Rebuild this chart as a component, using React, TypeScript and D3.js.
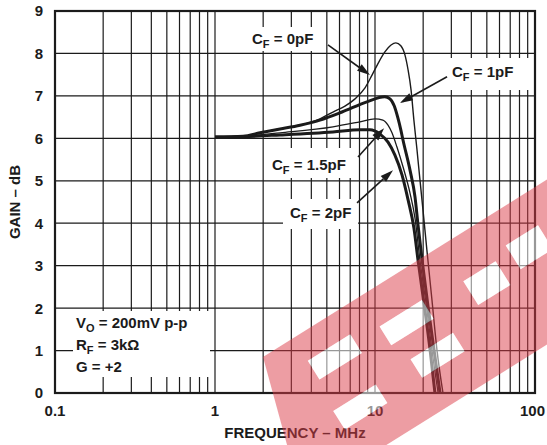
import React from "react";
import * as d3 from "d3";

const W = 547;
const H = 445;

// Curves (frequency in MHz, gain in dB)
const freq0pF = [1, 1.5, 1.91, 2.55, 3.4, 4.53, 5.46, 6.49, 7.5, 8.66, 9.58, 10.4, 11.5, 12.6, 13.5, 14.5, 15.4, 16.1, 16.8, 17.5, 18.3, 19.1, 19.95, 21.1, 22.7, 24.4, 26.6];
const gain0pF = [6.03, 6.05, 6.13, 6.22, 6.31, 6.46, 6.62, 6.76, 6.93, 7.19, 7.49, 7.75, 8.03, 8.2, 8.25, 8.18, 7.96, 7.61, 7.14, 6.43, 5.73, 5.02, 4.31, 3.37, 2.19, 1.01, 0];

const freq1pF = [1, 1.5, 1.91, 2.55, 3.4, 4.53, 6.22, 8.9, 11.5, 12.4, 13.2, 13.9, 14.5, 14.96, 16.55, 17.78, 18.57, 19.7, 21.4, 23.4, 25.5];
const gain1pF = [6.03, 6.05, 6.13, 6.22, 6.31, 6.43, 6.62, 6.86, 6.98, 6.93, 6.76, 6.48, 6.2, 5.96, 5.25, 4.62, 3.96, 3.13, 2.07, 1.01, 0];

const freq15pF = [1, 1.5, 2.55, 5.46, 8.06, 10, 11.2, 12.06, 12.77, 13.7, 14.96, 16.55, 17.78, 19.1, 21.1, 22.7, 24.8];
const gain15pF = [6.03, 6.05, 6.13, 6.27, 6.39, 6.46, 6.43, 6.31, 6.13, 5.8, 5.33, 4.71, 4.12, 3.13, 1.96, 1.01, 0];

const freq2pF = [1, 1.5, 2.55, 5.46, 8.06, 9.3, 10.75, 12.06, 13.3, 14.75, 16.1, 17.5, 18.57, 20.5, 22.1, 23.7];
const gain2pF = [6.03, 6.04, 6.08, 6.15, 6.2, 6.2, 6.1, 5.91, 5.61, 5.14, 4.55, 3.89, 3.13, 1.96, 1.01, 0];

const xTickValues = [0.1, 1, 10, 100];
const xTickLabels = ["0.1", "1", "10", "100"];
const yTickValues = [0, 1, 2, 3, 4, 5, 6, 7, 8, 9];

// label arrows: [fromF, fromG, toF, toG]
const arrow0pF = [5.08, 8.2, 9.3, 7.49];
const arrow1pF = [28.2, 7.45, 14.3, 6.83];
const arrow15pF = [7.83, 5.56, 11.4, 6.24];
const arrow2pF = [7.72, 4.48, 12.96, 5.25];

// watermark band (local rotated frame) and its white gaps [x, y, w, h]
const bandPoly = "0,0 620,0 620,140 -42,140";
const bandGaps = [
  [36, 27, 50, 22],
  [31, 83, 50, 22],
  [115, 36, 50, 22],
  [124, 80, 50, 22],
  [210, 42, 38, 28],
  [265, 34, 38, 28],
];

const FONT = "'Liberation Sans', Arial, Helvetica, sans-serif";
const INK = "#1b1b1b";
const PINK = "rgb(220,60,72)";

const x = d3.scaleLog().domain([0.1, 100]).range([55, 535]);
const y = d3.scaleLinear().domain([0, 9]).range([393, 11]);

function pathFor(fs: number[], gs: number[]) {
  const pts = fs.map((f, i) => [f, gs[i]] as [number, number]);
  return d3
    .line<[number, number]>()
    .x((d) => x(d[0]))
    .y((d) => y(d[1]))
    .curve(d3.curveMonotoneX)(pts) as string;
}

function Arrow({ a }: { a: number[] }) {
  const x1 = x(a[0]), y1 = y(a[1]), x2 = x(a[2]), y2 = y(a[3]);
  const ang = Math.atan2(y2 - y1, x2 - x1);
  const L = 13, hw = 4;
  const bx = x2 - L * Math.cos(ang), by = y2 - L * Math.sin(ang);
  const px = -Math.sin(ang) * hw, py = Math.cos(ang) * hw;
  return (
    <g>
      <line x1={x1} y1={y1} x2={bx} y2={by} stroke={INK} strokeWidth={1.6} />
      <polygon points={`${x2},${y2} ${bx + px},${by + py} ${bx - px},${by - py}`} fill={INK} />
    </g>
  );
}

function CLabel({ xx, yy, val }: { xx: number; yy: number; val: string }) {
  return (
    <text x={xx} y={yy} fontFamily={FONT} fontWeight="bold" fontSize={15} fill={INK}>
      C
      <tspan fontSize={11} dy={4}>F</tspan>
      <tspan dy={-4}>{` = ${val}`}</tspan>
    </text>
  );
}

export default function App() {
  const vLines: number[] = [];
  for (let e = -1; e < 2; e++) {
    for (let m = 1; m <= 9; m++) {
      const v = m * Math.pow(10, e);
      if (v > 0.1 + 1e-9) vLines.push(v);
    }
  }
  const hLines = [1, 2, 3, 4, 5, 6, 7, 8];

  return (
    <svg width={W} height={H} style={{ position: "absolute", left: 0, top: 0, background: "#fff" }}>
      <defs>
        <mask id="bandMask" maskUnits="userSpaceOnUse" x={-100} y={-50} width={800} height={250}>
          <rect x={-100} y={-50} width={800} height={250} fill="white" />
          {bandGaps.map((g, i) => (
            <rect key={i} x={g[0]} y={g[1]} width={g[2]} height={g[3]} fill="black" />
          ))}
        </mask>
      </defs>
      <rect x={0} y={0} width={W} height={H} fill="#fff" />
      {/* grid */}
      {vLines.map((v) => (
        <line key={"v" + v} x1={x(v)} x2={x(v)} y1={y(0)} y2={y(9)} stroke={INK} strokeWidth={1.2} />
      ))}
      {hLines.map((v) => (
        <line key={"h" + v} x1={x(0.1)} x2={x(100)} y1={y(v)} y2={y(v)} stroke={INK} strokeWidth={1.2} />
      ))}
      {/* white label boxes */}
      <rect x={245} y={27} width={77} height={24} fill="#fff" />
      <rect x={440} y={58} width={90} height={32} fill="#fff" />
      <rect x={265} y={148} width={88} height={30} fill="#fff" />
      <rect x={283} y={199} width={75} height={30} fill="#fff" />
      <rect x={73} y={311} width={137} height={66} fill="#fff" />
      {/* curves */}
      <path d={pathFor(freq2pF, gain2pF)} fill="none" stroke={INK} strokeWidth={3} strokeLinejoin="round" />
      <path d={pathFor(freq15pF, gain15pF)} fill="none" stroke={INK} strokeWidth={1.3} strokeLinejoin="round" />
      <path d={pathFor(freq1pF, gain1pF)} fill="none" stroke={INK} strokeWidth={3} strokeLinejoin="round" />
      <path d={pathFor(freq0pF, gain0pF)} fill="none" stroke={INK} strokeWidth={1.4} strokeLinejoin="round" />
      {/* arrows */}
      <Arrow a={arrow0pF} />
      <Arrow a={arrow1pF} />
      <Arrow a={arrow15pF} />
      <Arrow a={arrow2pF} />
      {/* labels */}
      <CLabel xx={252} yy={44} val="0pF" />
      <CLabel xx={452} yy={77} val="1pF" />
      <CLabel xx={272} yy={170} val="1.5pF" />
      <CLabel xx={290} yy={218} val="2pF" />
      <g fontFamily={FONT} fontWeight="bold" fontSize={15} fill={INK}>
        <text x={76} y={328}>
          V<tspan fontSize={11} dy={4}>O</tspan>
          <tspan dy={-4}> = 200mV p-p</tspan>
        </text>
        <text x={76} y={350}>
          R<tspan fontSize={11} dy={4}>F</tspan>
          <tspan dy={-4}> = 3kΩ</tspan>
        </text>
        <text x={76} y={372}>G = +2</text>
      </g>
      {/* border */}
      <rect x={x(0.1)} y={y(9)} width={x(100) - x(0.1)} height={y(0) - y(9)} fill="none" stroke={INK} strokeWidth={2.2} />
      {/* ticks labels */}
      <g fontFamily={FONT} fontWeight="bold" fontSize={15} fill={INK}>
        {yTickValues.map((v) => (
          <text key={"yt" + v} x={43} y={y(v)} dy="0.36em" textAnchor="end">
            {v}
          </text>
        ))}
        {xTickValues.map((v, i) => (
          <text key={"xt" + v} x={i === 3 ? 545 : x(v)} y={416} textAnchor={i === 3 ? "end" : "middle"}>
            {xTickLabels[i]}
          </text>
        ))}
        <text x={(x(0.1) + x(100)) / 2} y={438} textAnchor="middle">
          FREQUENCY – MHz
        </text>
        <text transform={`translate(20,${(y(0) + y(9)) / 2}) rotate(-90)`} textAnchor="middle">
          GAIN – dB
        </text>
      </g>
      {/* watermark */}
      <g transform="translate(263,357) rotate(-32)">
        <polygon points={bandPoly} fill={PINK} fillOpacity={0.5} mask="url(#bandMask)" />
        {bandGaps.map((g, i) => (
          <rect key={i} x={g[0]} y={g[1]} width={g[2]} height={g[3]} fill="#fff" fillOpacity={0.55} />
        ))}
      </g>
    </svg>
  );
}
